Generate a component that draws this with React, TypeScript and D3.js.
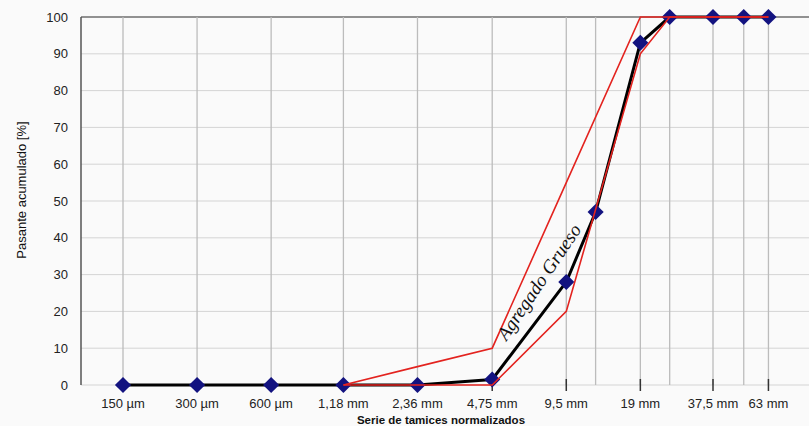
import React from 'react';
import * as d3 from 'd3';

// sieve sizes in mm
const sieveLabels = ['150 µm', '300 µm', '600 µm', '1,18 mm', '2,36 mm', '4,75 mm', '9,5 mm', '19 mm', '37,5 mm', '63 mm'];
const sieveSizes = [0.15, 0.3, 0.6, 1.18, 2.36, 4.75, 9.5, 19, 37.5, 63];
const extraSieves = [12.5, 25, 50];

const sampleSizes = [0.15, 0.3, 0.6, 1.18, 2.36, 4.75, 9.5, 12.5, 19, 25, 37.5, 50, 63];
const samplePassing = [0, 0, 0, 0, 0, 1.5, 28, 47, 93, 100, 100, 100, 100];

const limitSizes = [1.18, 2.36, 4.75, 9.5, 19, 25, 37.5, 50, 63];
const upperLimit = [0, 5, 10, 55, 100, 100, 100, 100, 100];
const lowerLimit = [0, 0, 0, 20, 90, 100, 100, 100, 100];

const yTicks = [0, 10, 20, 30, 40, 50, 60, 70, 80, 90, 100];

export default function App() {
  const W = 809, H = 426;
  const left = 81, right = 809, top = 17, bottom = 385;

  const x = d3.scaleLog().domain([0.15, 37.5]).range([123, 713]);
  const y = d3.scaleLinear().domain([0, 100]).range([bottom, top]);

  const line = d3.line<[number, number]>()
    .x(d => x(d[0]))
    .y(d => y(d[1]));

  const sample = sampleSizes.map((s, i) => [s, samplePassing[i]] as [number, number]);
  const upper = limitSizes.map((s, i) => [s, upperLimit[i]] as [number, number]);
  const lower = limitSizes.map((s, i) => [s, lowerLimit[i]] as [number, number]);

  const diamond = d3.symbol().type(d3.symbolSquare).size(130)();

  const sans = 'Liberation Sans, Arial, sans-serif';

  // curve label, between the two limit lines
  const lx = x(9.5) - 22;
  const ly = y(27);

  return (
    <svg width={W} height={H} style={{ position: 'absolute', left: 0, top: 0 }}>
      <rect width={W} height={H} fill="#fafafa" />

      {yTicks.map(t => (
        <line key={'h' + t} x1={left} x2={right} y1={y(t)} y2={y(t)}
          stroke={t === 100 ? '#6e6e6e' : '#d4d4d4'} strokeWidth={t === 100 ? 1.5 : 1} />
      ))}

      {[...sieveSizes, ...extraSieves].map(s => (
        <line key={'v' + s} x1={x(s)} x2={x(s)} y1={top} y2={bottom}
          stroke="#bcbcbc" strokeWidth={1.3} />
      ))}

      {sieveSizes.map(s => (
        <line key={'t' + s} x1={x(s)} x2={x(s)} y1={bottom - 6} y2={bottom + 6}
          stroke="#333" strokeWidth={1.5} />
      ))}

      <line x1={left} x2={left} y1={top} y2={bottom} stroke="#555" strokeWidth={1.5} />

      {yTicks.map(t => (
        <text key={'yl' + t} x={68} y={y(t)} dy="0.35em" textAnchor="end"
          fontFamily={sans} fontSize={13} fill="#222">{t}</text>
      ))}

      {sieveSizes.map((s, i) => (
        <text key={'xl' + s} x={x(s)} y={408} textAnchor="middle"
          fontFamily={sans} fontSize={13} fill="#222">{sieveLabels[i]}</text>
      ))}

      <text transform="translate(26,190) rotate(-90)" textAnchor="middle"
        fontFamily={sans} fontSize={13} fill="#111">Pasante acumulado [%]</text>

      <text x={441} y={424} textAnchor="middle" fontFamily={sans} fontSize={11.5}
        fontWeight="bold" fill="#111">Serie de tamices normalizados</text>

      <path d={line(sample) || ''} fill="none" stroke="#000" strokeWidth={3} strokeLinejoin="round" />

      {sample.map(d => (
        <path key={'p' + d[0]} d={diamond}
          transform={`translate(${x(d[0])},${y(d[1])}) rotate(45)`} fill="#131380" />
      ))}

      <path d={line(upper) || ''} fill="none" stroke="#e3231f" strokeWidth={1.6} />
      <path d={line(lower) || ''} fill="none" stroke="#e3231f" strokeWidth={1.6} />

      <text transform={`translate(${lx},${ly}) rotate(-56)`} textAnchor="middle"
        fontFamily="Liberation Serif, Times New Roman, serif" fontStyle="italic"
        fontSize={19} fill="#111">Agregado Grueso</text>
    </svg>
  );
}
